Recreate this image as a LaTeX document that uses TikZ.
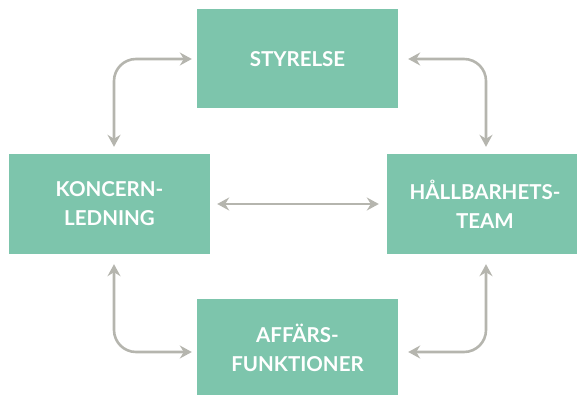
\documentclass[tikz,border=0pt]{standalone}
\usepackage{fontspec}
\setmainfont{Lato}
\usetikzlibrary{arrows.meta}
\definecolor{boxgreen}{HTML}{7DC5AC}
\definecolor{arrowgray}{HTML}{B5B5AE}
\begin{document}
\begin{tikzpicture}[x=1pt,y=-1pt,
  box/.style={fill=boxgreen,draw=none,text=white,font=\fontsize{20.5}{29}\selectfont\bfseries,align=center,inner sep=0pt},
  link/.style={draw=arrowgray,line width=2.6pt,rounded corners=22pt,
    {Stealth[length=12pt,width=13pt,inset=4pt]}-{Stealth[length=12pt,width=13pt,inset=4pt]}}]
\useasboundingbox (0,0) rectangle (577,395);
\node[box,minimum width=201pt,minimum height=99pt] (sty) at (297.5,59) {STYRELSE};
\node[box,minimum width=201pt,minimum height=100pt] (kon) at (109.5,204) {KONCERN-\\LEDNING};
\node[box,minimum width=196pt,minimum height=100pt] (hall) at (485,204) {HÅLLBARHETS-\\TEAM};
\node[box,minimum width=201pt,minimum height=97pt] (aff) at (297.5,347.5) {AFFÄRS-\\FUNKTIONER};
\draw[link] ([xshift=-5pt]sty.west) -| ([xshift=4.5pt,yshift=7pt]kon.north);
\draw[link] ([xshift=10pt]sty.east) -| ([xshift=1pt,yshift=7pt]hall.north);
\draw[link] ([xshift=4.5pt,yshift=-10pt]kon.south) |- ([xshift=-5pt,yshift=-4.5pt]aff.west);
\draw[link] ([xshift=1pt,yshift=-10pt]hall.south) |- ([xshift=10pt,yshift=-4.5pt]aff.east);
\draw[link] ([xshift=7pt]kon.east) -- ([xshift=-8pt]hall.west);
\end{tikzpicture}
\end{document}
